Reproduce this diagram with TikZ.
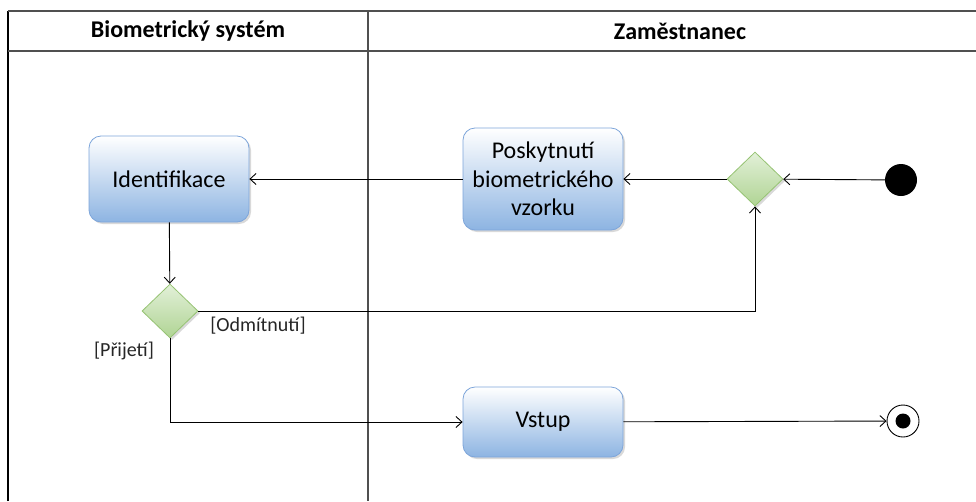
\documentclass[tikz,border=0pt]{standalone}
\usepackage{fontspec}
\setmainfont{Carlito}
\usetikzlibrary{arrows.meta,shapes.geometric,shadows}

\definecolor{boxblue}{RGB}{141,180,226}
\definecolor{boxedge}{RGB}{125,165,218}
\definecolor{diatop}{RGB}{226,240,216}
\definecolor{diabot}{RGB}{176,212,148}
\definecolor{diaedge}{RGB}{150,195,115}
\definecolor{laneline}{RGB}{80,80,80}

\begin{document}
\begin{tikzpicture}[x=1pt,y=-1pt,
  lane/.style={draw=laneline,line width=2pt},
  head/.style={font=\bfseries\fontsize{24}{28}\selectfont},
  activity/.style={draw=boxedge,line width=0.8pt,rounded corners=12pt,
    top color=white,bottom color=boxblue,minimum width=160pt,align=center,
    drop shadow={shadow xshift=2pt,shadow yshift=-2pt,opacity=0.3},
    font=\fontsize{24}{28.5}\selectfont},
  decision/.style={diamond,draw=diaedge,line width=0.8pt,inner sep=0pt,
    minimum width=56pt,minimum height=54pt,top color=diatop,bottom color=diabot,
    drop shadow={shadow xshift=2pt,shadow yshift=-2pt,opacity=0.3}},
  guard/.style={font=\fontsize{20}{24}\selectfont,text=black!85},
  flow/.style={-{Straight Barb[length=6pt,width=11pt]},line width=0.9pt}]
  \useasboundingbox (0,0) rectangle (976,501);

  % swimlanes
  \draw[lane,draw=black] (8,501) -- (8,11);
  \draw[lane] (8,11) -- (976,11);
  \draw[lane] (8,51) -- (976,51);
  \draw[lane] (368,11) -- (368,501);
  \node[head] (sys) at (188,31) {Biometrický systém};
  \node[head] (emp) at (680,31) {Zaměstnanec};

  % activities
  \node[activity,minimum height=86pt] (ident) at (169,179) {Identifikace};
  \node[activity,minimum height=102pt] (sample) at (543,179) {Poskytnutí\\biometrického\\vzorku};
  \node[activity,minimum height=70pt] (enter) at (543,422) {Vstup};

  % control nodes
  \node[circle,fill=black,minimum size=32pt,inner sep=0pt] (start) at (901,180) {};
  \node[decision] (merge) at (755,179) {};
  \node[decision] (check) at (170,311) {};
  \node[circle,draw,line width=0.9pt,fill=white,minimum size=32pt,inner sep=0pt] (final) at (903,421) {};
  \fill[black] (final.center) circle[radius=7.5pt];

  % guards
  \node[guard] (reject) at (258,326) {[Odmítnutí]};
  \node[guard] (accept) at (124,351) {[Přijetí]};

  % flows
  \draw[flow] (start) -- (merge);
  \draw[flow] (merge) -- (sample);
  \draw[flow] (sample) -- (ident);
  \draw[flow] (ident) -- (check);
  \draw[flow] (check.east) -| (merge.south);
  \draw[flow] (check.south) |- (enter.west);
  \draw[flow] (enter) -- (final);
\end{tikzpicture}
\end{document}
